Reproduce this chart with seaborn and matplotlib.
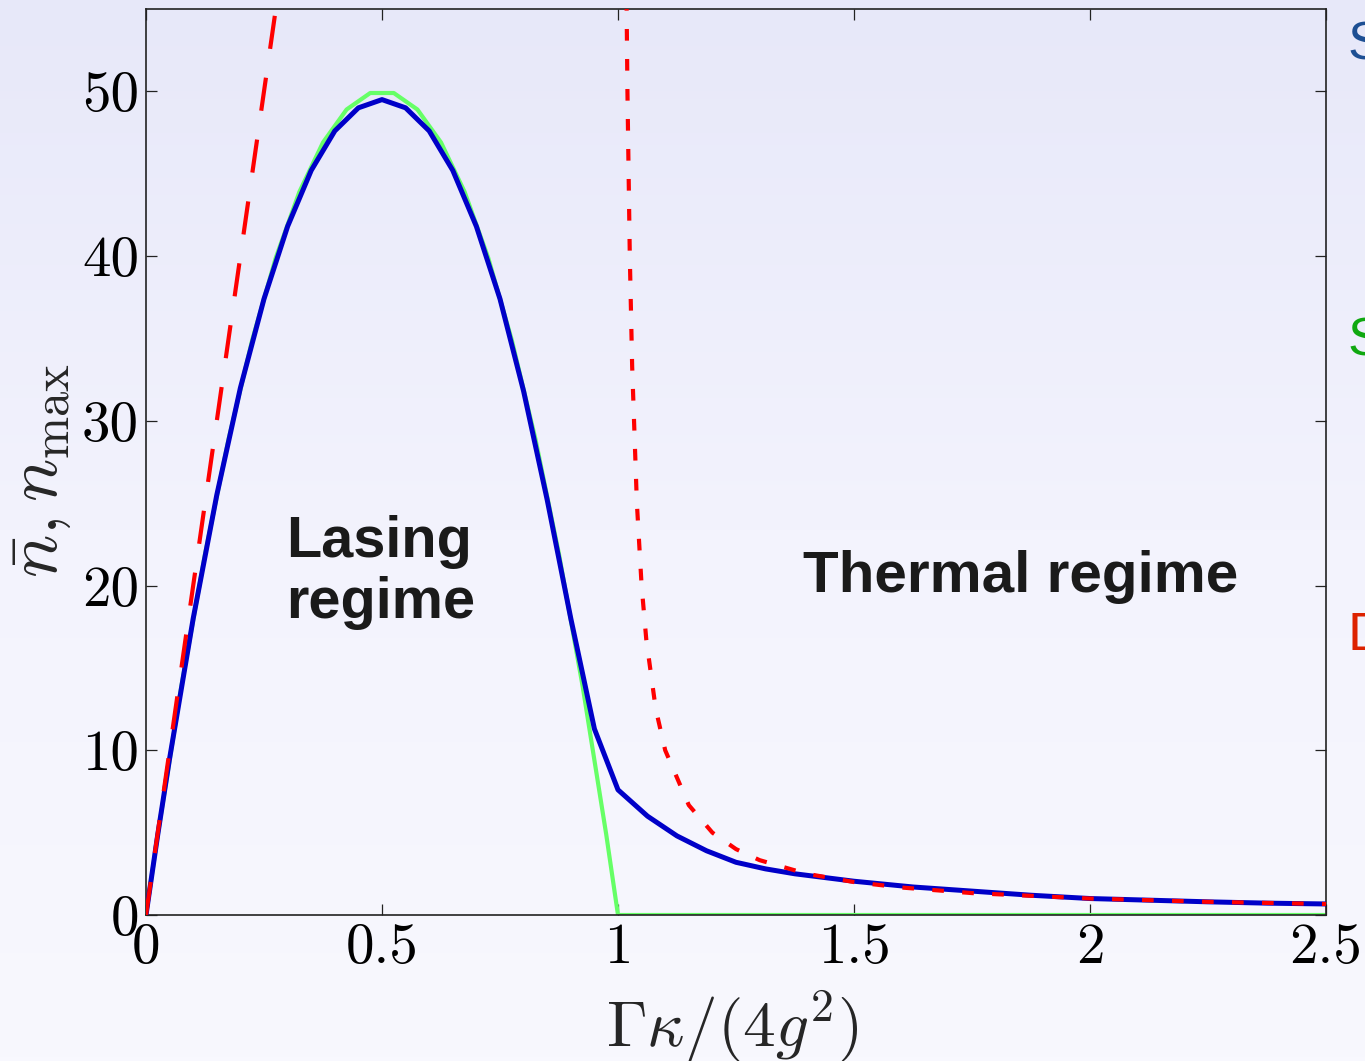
import numpy as np
import pandas as pd
import matplotlib
matplotlib.use("Agg")
import matplotlib.pyplot as plt
import seaborn as sns
from matplotlib.colors import LinearSegmentedColormap

# ---------------- data ----------------
x_green = [0.0, 0.025, 0.075, 0.125, 0.175, 0.225, 0.275, 0.325, 0.375, 0.425,
           0.475, 0.525, 0.575, 0.625, 0.675, 0.725, 0.775, 0.825, 0.875, 0.925,
           0.975, 1.0, 2.5]
y_green = [0.0, 4.9, 13.9, 21.9, 28.9, 34.9, 39.9, 43.9, 46.9, 48.9,
           49.9, 49.9, 48.9, 46.9, 43.9, 39.9, 34.9, 28.9, 21.9, 13.9,
           4.9, 0.0, 0.0]

x_blue = [0.0, 0.025, 0.05, 0.1, 0.15, 0.2, 0.25, 0.3, 0.35, 0.4, 0.45, 0.5,
          0.55, 0.6, 0.65, 0.7, 0.75, 0.8, 0.85, 0.9, 0.95, 1.0,
          1.0625, 1.125, 1.1875, 1.25, 1.3125, 1.375, 1.5, 1.625, 1.75, 1.875,
          2.0, 2.125, 2.25, 2.375, 2.5]
y_blue = [0.0, 4.9, 9.5, 18.0, 25.5, 32.0, 37.4, 41.8, 45.2, 47.6, 49.0, 49.5,
          49.0, 47.6, 45.2, 41.8, 37.4, 31.8, 25.2, 18.0, 11.3, 7.6,
          6.0, 4.8, 3.9, 3.2, 2.8, 2.5, 2.05, 1.7, 1.45, 1.2,
          1.0, 0.9, 0.8, 0.72, 0.67]

x_linear = [0.0, 0.3]
y_linear = [0.0, 60.0]

x_thermal = [1.014, 1.017, 1.02, 1.025, 1.03, 1.04, 1.05, 1.06, 1.08, 1.1, 1.15, 1.2,
             1.25, 1.3, 1.4, 1.5, 1.6, 1.75, 2.0, 2.25, 2.5]
y_thermal = [71.4, 58.8, 50.0, 40.0, 33.3, 25.0, 20.0, 16.7, 12.5, 10.0, 6.67, 5.0,
             4.0, 3.33, 2.5, 2.0, 1.67, 1.33, 1.0, 0.8, 0.667]

x_ticks = [0, 0.5, 1, 1.5, 2, 2.5]
x_ticklabels = ["0", "0.5", "1", "1.5", "2", "2.5"]
y_ticks = [0, 10, 20, 30, 40, 50]
y_ticklabels = ["0", "10", "20", "30", "40", "50"]

regime_lasing = ["Lasing", "regime"]
regime_thermal = "Thermal regime"
edge_letters = ["S", "S", "D"]
edge_colors = ["#1d4f93", "#10a810", "#dd2200"]

# ---------------- style ----------------
sns.set_style("ticks")
plt.rcParams["mathtext.fontset"] = "cm"
plt.rcParams["font.family"] = ["Liberation Sans", "DejaVu Sans"]

W, H = 1365, 1061
fig = plt.figure(figsize=(W / 100, H / 100), dpi=100)

# gradient background
bg = fig.add_axes([0, 0, 1, 1], zorder=-10)
grad = np.linspace(0, 1, 256).reshape(-1, 1)
cmap = LinearSegmentedColormap.from_list("bg", ["#e7e8f9", "#f3f3fd", "#f8f8fe"])
bg.imshow(grad, aspect="auto", cmap=cmap, extent=[0, 1, 0, 1], origin="upper")
bg.axis("off")

ax = fig.add_axes([146 / W, 146 / H, 1180 / W, 906 / H])
ax.set_facecolor("none")

df_g = pd.DataFrame({"x": x_green, "y": y_green})
df_b = pd.DataFrame({"x": x_blue, "y": y_blue})
df_l = pd.DataFrame({"x": x_linear, "y": y_linear})
df_t = pd.DataFrame({"x": x_thermal, "y": y_thermal})

sns.lineplot(data=df_g, x="x", y="y", ax=ax, color="#66ff66", lw=3.0,
             sort=False, estimator=None, zorder=2)
sns.lineplot(data=df_b, x="x", y="y", ax=ax, color="#0000c8", lw=3.6,
             sort=False, estimator=None, zorder=3)
sns.lineplot(data=df_l, x="x", y="y", ax=ax, color="#ff0000", lw=3.0,
             sort=False, estimator=None, zorder=4, linestyle=(0, (8, 7)))
sns.lineplot(data=df_t, x="x", y="y", ax=ax, color="#ff0000", lw=3.0,
             sort=False, estimator=None, zorder=4, linestyle=(0, (2.8, 4.4)))

ax.set_xlim(0, 2.5)
ax.set_ylim(0, 55)

ax.set_xticks(x_ticks)
ax.set_xticklabels(x_ticklabels, fontfamily="cmr10", fontsize=41)
ax.set_yticks(y_ticks)
ax.set_yticklabels(y_ticklabels, fontfamily="cmr10", fontsize=41)
ax.tick_params(axis="both", direction="in", length=8, width=0.9,
               top=True, right=True, colors="#222222")
ax.tick_params(axis="x", pad=6, labelcolor="black")
ax.tick_params(axis="y", pad=5, labelcolor="black")
for sp in ax.spines.values():
    sp.set_visible(True)
    sp.set_color("#222222")
    sp.set_linewidth(1.2)

ax.set_xlabel(r"$\Gamma\kappa/(4g^2)$", fontsize=47)
ax.xaxis.set_label_coords(0.497, -0.081)
ax.xaxis.label.set_va("top")
ax.set_ylabel(r"$\bar{n}, n_{\rm max}$", fontsize=52)
ax.yaxis.set_label_coords(-0.062, 0.49)

# regime annotations
ax.text(0.297, 21.76, regime_lasing[0], fontsize=41.5, fontweight="bold",
        color="#1a1a1a", ha="left", va="baseline")
ax.text(0.297, 18.06, regime_lasing[1], fontsize=41.5, fontweight="bold",
        color="#1a1a1a", ha="left", va="baseline")
ax.text(1.392, 19.58, regime_thermal, fontsize=42, fontweight="bold",
        color="#1a1a1a", ha="left", va="baseline")

# clipped letters at the right edge
for i, (letter, col) in enumerate(zip(edge_letters, edge_colors)):
    ypix = [60, 355, 650][i]
    fig.text(1347 / W, 1 - ypix / H, letter, fontsize=39, color=col,
             ha="left", va="baseline")

fig.savefig("out.png", dpi=100)
